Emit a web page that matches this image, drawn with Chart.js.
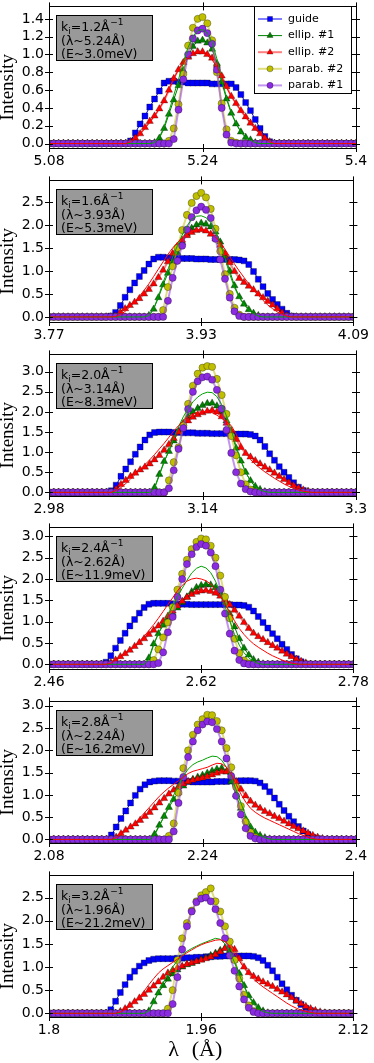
<!DOCTYPE html>
<html>
<head>
<meta charset="utf-8">
<title>Wavelength distributions</title>
<script src="https://cdn.jsdelivr.net/npm/chart.js@4.4.0/dist/chart.umd.min.js"></script>
<style>
  html, body { margin: 0; padding: 0; background: #fff; }
  body { width: 374px; height: 1063px; position: relative; overflow: hidden; }
  .panel { position: absolute; left: 0; width: 374px; }
</style>
</head>
<body>
<script>
// wavelength grid step (Å) used by every panel, starting at the first x tick
const lamStep = 0.005;

const seriesNames = ['guide', 'ellip. #1', 'ellip. #2', 'parab. #2', 'parab. #1'];
const kiLabels = ['1.2', '1.6', '2.0', '2.4', '2.8', '3.2'];
const lamLabels = ['5.24', '3.93', '3.14', '2.62', '2.24', '1.96'];
const energyLabels = ['3.0', '5.3', '8.3', '11.9', '16.2', '21.2'];

const xTicks1 = [5.08, 5.24, 5.4];
const xTicks2 = [3.77, 3.93, 4.09];
const xTicks3 = [2.98, 3.14, 3.3];
const xTicks4 = [2.46, 2.62, 2.78];
const xTicks5 = [2.08, 2.24, 2.4];
const xTicks6 = [1.8, 1.96, 2.12];

const yTicks1 = [0, 0.2, 0.4, 0.6, 0.8, 1.0, 1.2, 1.4];
const yTicks2 = [0, 0.5, 1.0, 1.5, 2.0, 2.5];
const yTicks3 = [0, 0.5, 1.0, 1.5, 2.0, 2.5, 3.0];
const yTicks4 = [0, 0.5, 1.0, 1.5, 2.0, 2.5, 3.0];
const yTicks5 = [0, 0.5, 1.0, 1.5, 2.0, 2.5, 3.0];
const yTicks6 = [0, 0.5, 1.0, 1.5, 2.0, 2.5];

// ---- k_i = 1.2
const guide1 = [0,0,0,0,0, 0,0,0,0,0, 0,0,0,0,0, 0,0,
  0.03,0.12,0.22,0.31,0.41, 0.50,0.59,0.68,0.70,0.70, 0.69,0.69,0.68,0.68,0.68, 0.68,0.68,0.67,0.67,0.67, 0.67,0.67,0.63,0.55,0.46, 0.37,0.27,0.17,0.08,0.02,
  0,0,0,0,0, 0,0,0,0,0, 0,0,0,0,0, 0,0,0];
const ellip1_1 = [0,0,0,0,0, 0,0,0,0,0, 0,0,0,0,0, 0,0,0,0,0, 0,0,
  0.01,0.06,0.17,0.33,0.49, 0.65,0.82,0.98,1.09,1.15, 1.16,1.13,1.06,0.90,0.69, 0.50,0.34,0.22,0.13,0.07, 0.04,0.01,
  0,0,0,0,0, 0,0,0,0,0, 0,0,0,0,0, 0,0,0,0,0, 0];
const ellip2_1 = [0,0,0,0,0, 0,0,0,0,0, 0,0,0,0,0, 0,0,
  0.02,0.06,0.11,0.18,0.25, 0.31,0.39,0.48,0.60,0.73, 0.83,0.91,0.97,1.01,1.03, 1.03,1.00,0.96,0.88,0.76, 0.64,0.53,0.45,0.37,0.30, 0.23,0.17,0.11,0.06,0.02,
  0,0,0,0,0, 0,0,0,0,0, 0,0,0,0,0, 0,0,0];
const parab2_1 = [0,0,0,0,0, 0,0,0,0,0, 0,0,0,0,0, 0,0,0,0,0, 0,0,0,0,0,
  0.03,0.17,0.44,0.78,1.10, 1.30,1.40,1.42,1.35,1.16, 0.80,0.45,0.16,0.03,0.01,
  0,0,0,0,0, 0,0,0,0,0, 0,0,0,0,0, 0,0,0,0,0, 0,0,0,0,0];
const parab1_1 = [0,0,0,0,0, 0,0,0,0,0, 0,0,0,0,0, 0,0,0,0,0, 0,0,0,0,0, 0,
  0.05,0.38,0.72,1.00,1.18, 1.27,1.29,1.24,1.12,0.83, 0.40,0.10,0.01,
  0,0,0,0,0, 0,0,0,0,0, 0,0,0,0,0, 0,0,0,0,0, 0,0,0,0,0, 0];
const ellip1Line1 = [0,0,0,0,0, 0,0,0,0,0, 0,0,0,0,0, 0,0,0,0,0, 0,0,
  0.01,0.07,0.19,0.36,0.54, 0.72,0.91,1.08,1.20,1.27, 1.28,1.24,1.14,0.95,0.72, 0.52,0.35,0.23,0.13,0.07, 0.04,0.01,
  0,0,0,0,0, 0,0,0,0,0, 0,0,0,0,0, 0,0,0,0,0, 0];
const ellip2Line1 = [0,0,0,0,0, 0,0,0,0,0, 0,0,0,0,0, 0,0,
  0.02,0.06,0.11,0.17,0.24, 0.31,0.39,0.49,0.61,0.73, 0.83,0.91,0.97,1.01,1.03, 1.02,0.99,0.94,0.86,0.75, 0.63,0.53,0.45,0.37,0.30, 0.23,0.17,0.11,0.06,0.02,
  0,0,0,0,0, 0,0,0,0,0, 0,0,0,0,0, 0,0,0];

// ---- k_i = 1.6
const guide2 = [0,0,0,0,0, 0,0,0,0,0, 0,0,0,
  0.02,0.10,0.25,0.43,0.59, 0.74,0.88,1.01,1.15,1.26, 1.30,1.30,1.29,1.28,1.28, 1.27,1.27,1.27,1.26,1.26, 1.26,1.25,1.25,1.25,1.25, 1.25,1.25,1.24,1.22,1.14, 0.99,0.82,0.66,0.51,0.38, 0.27,0.17,0.08,0.02,
  0,0,0,0,0, 0,0,0,0,0, 0,0,0];
const ellip1_2 = [0,0,0,0,0, 0,0,0,0,0, 0,0,0,0,0, 0,0,0,0,0, 0,
  0.03,0.17,0.42,0.70,0.95, 1.18,1.40,1.62,1.80,1.93, 2.00,2.04,2.02,1.96,1.85, 1.63,1.33,1.00,0.68,0.44, 0.28,0.16,0.08,0.03,
  0,0,0,0,0, 0,0,0,0,0, 0,0,0,0,0, 0,0,0,0,0];
const ellip2_2 = [0,0,0,0,0, 0,0,0,0,0, 0,0,0,0,
  0.02,0.10,0.18,0.25,0.32, 0.40,0.50,0.60,0.72,0.86, 1.02,1.20,1.38,1.54,1.67, 1.77,1.84,1.88,1.90,1.87, 1.80,1.70,1.56,1.38,1.18, 0.99,0.84,0.75,0.67,0.59, 0.50,0.42,0.34,0.26,0.18, 0.09,0.03,
  0,0,0,0,0, 0,0,0,0,0, 0,0,0,0];
const parab2_2 = [0,0,0,0,0, 0,0,0,0,0, 0,0,0,0,0, 0,0,0,0,0, 0,0,0,0,
  0.15,0.65,1.10,1.50,1.89, 2.22,2.48,2.63,2.70,2.60, 2.35,1.92,1.43,0.93,0.50, 0.20,0.05,
  0,0,0,0,0, 0,0,0,0,0, 0,0,0,0,0, 0,0,0,0,0, 0,0,0,0];
const parab1_2 = [0,0,0,0,0, 0,0,0,0,0, 0,0,0,0,0, 0,0,0,0,0, 0,0,0,0,0,
  0.35,0.85,1.22,1.55,1.90, 2.17,2.32,2.40,2.33,2.15, 1.70,1.25,0.83,0.42,0.12, 0.02,
  0,0,0,0,0, 0,0,0,0,0, 0,0,0,0,0, 0,0,0,0,0, 0,0,0,0];
const ellip1Line2 = [0,0,0,0,0, 0,0,0,0,0, 0,0,0,0,0, 0,0,0,0,0, 0,
  0.03,0.18,0.45,0.75,1.03, 1.30,1.55,1.78,1.98,2.12, 2.19,2.20,2.16,2.06,1.88, 1.60,1.27,0.93,0.64,0.42, 0.26,0.15,0.07,0.02,
  0,0,0,0,0, 0,0,0,0,0, 0,0,0,0,0, 0,0,0,0,0];
const ellip2Line2 = [0,0,0,0,0, 0,0,0,0,0, 0,0,0,0,
  0.01,0.05,0.12,0.22,0.33, 0.45,0.58,0.72,0.88,1.04, 1.20,1.36,1.50,1.62,1.72, 1.80,1.86,1.89,1.90,1.88, 1.83,1.74,1.62,1.47,1.31, 1.15,1.00,0.86,0.72,0.59, 0.47,0.36,0.26,0.18,0.11, 0.06,0.02,
  0,0,0,0,0, 0,0,0,0,0, 0,0,0,0];

// ---- k_i = 2.0
const guide3 = [0,0,0,0,0, 0,0,0,0,0, 0,0,0,
  0.04,0.18,0.40,0.58,0.76, 0.95,1.13,1.30,1.43,1.49, 1.50,1.50,1.50,1.49,1.49, 1.48,1.48,1.48,1.47,1.47, 1.47,1.46,1.46,1.46,1.46, 1.45,1.45,1.45,1.45,1.44, 1.40,1.30,1.14,0.96,0.80, 0.64,0.50,0.37,0.24,0.13, 0.05,0.01,
  0,0,0,0,0, 0,0,0,0,0];
const ellip1_3 = [0,0,0,0,0, 0,0,0,0,0, 0,0,0,0,0, 0,0,0,0,0, 0,0,
  0.12,0.45,0.77,1.02,1.28, 1.52,1.72,1.88,2.00,2.09, 2.16,2.21,2.22,2.15,2.00, 1.78,1.48,1.10,0.78,0.50, 0.29,0.15,0.07,0.02,
  0,0,0,0,0, 0,0,0,0,0, 0,0,0,0,0, 0,0,0,0];
const ellip2_3 = [0,0,0,0,0, 0,0,0,0,0, 0,0,0,0,
  0.08,0.20,0.30,0.40,0.48, 0.56,0.63,0.71,0.81,0.92, 1.05,1.19,1.34,1.50,1.66, 1.78,1.87,1.93,1.98,2.02, 2.04,2.00,1.88,1.72,1.53, 1.32,1.12,0.97,0.88,0.79, 0.71,0.63,0.56,0.48,0.40, 0.32,0.24,0.17,0.11,0.06, 0.03,
  0,0,0,0,0, 0,0,0,0,0];
const parab2_3 = [0,0,0,0,0, 0,0,0,0,0, 0,0,0,0,0, 0,0,0,0,0, 0,0,0,0,0,
  0.30,0.75,1.12,1.66,2.20, 2.65,2.95,3.10,3.14,3.12, 2.82,2.42,1.95,1.40,0.92, 0.50,0.20,0.07,0.01,
  0,0,0,0,0, 0,0,0,0,0, 0,0,0,0,0, 0,0,0,0,0, 0];
const parab1_3 = [0,0,0,0,0, 0,0,0,0,0, 0,0,0,0,0, 0,0,0,0,0, 0,0,0,0,0,
  0.10,0.55,1.08,1.60,2.07, 2.50,2.76,2.86,2.88,2.80, 2.55,2.08,1.55,0.98,0.50, 0.22,0.08,0.02,
  0,0,0,0,0, 0,0,0,0,0, 0,0,0,0,0, 0,0,0,0,0, 0,0];
const ellip1Line3 = [0,0,0,0,0, 0,0,0,0,0, 0,0,0,0,0, 0,0,0,0,0, 0,0,
  0.10,0.42,0.75,1.05,1.35, 1.63,1.88,2.08,2.25,2.37, 2.45,2.49,2.48,2.38,2.18, 1.90,1.55,1.15,0.80,0.50, 0.28,0.14,0.06,0.02,
  0,0,0,0,0, 0,0,0,0,0, 0,0,0,0,0, 0,0,0,0];
const ellip2Line3 = [0,0,0,0,0, 0,0,0,0,0, 0,0,0,0,
  0.05,0.12,0.22,0.33,0.45, 0.57,0.69,0.81,0.94,1.08, 1.22,1.37,1.52,1.66,1.78, 1.88,1.95,1.99,2.01,2.01, 1.98,1.92,1.84,1.76,1.66, 1.45,1.20,0.98,0.82,0.70, 0.60,0.51,0.43,0.35,0.28, 0.21,0.15,0.10,0.06,0.03, 0.01,
  0,0,0,0,0, 0,0,0,0,0];

// ---- k_i = 2.4
const guide4 = [0,0,0,0,0, 0,0,0,0,0, 0,0,
  0.05,0.20,0.38,0.56,0.73, 0.90,1.05,1.20,1.33,1.41, 1.43,1.43,1.43,1.43,1.42, 1.41,1.41,1.41,1.40,1.40, 1.40,1.40,1.40,1.40,1.40, 1.40,1.40,1.39,1.39,1.38, 1.34,1.25,1.12,0.98,0.85, 0.72,0.60,0.47,0.35,0.23, 0.13,0.06,0.01,
  0,0,0,0,0, 0,0,0,0,0];
const ellip1_4 = [0,0,0,0,0, 0,0,0,0,0, 0,0,0,0,0, 0,0,0,0,0, 0,
  0.15,0.48,0.72,0.92,1.08, 1.20,1.32,1.45,1.58,1.70, 1.80,1.85,1.87,1.86,1.80, 1.66,1.45,1.18,0.88,0.60, 0.38,0.22,0.11,0.05,0.01,
  0,0,0,0,0, 0,0,0,0,0, 0,0,0,0,0, 0,0,0,0];
const ellip2_4 = [0,0,0,0,0, 0,0,0,0,0, 0,0,0,
  0.04,0.10,0.18,0.25,0.33, 0.42,0.51,0.60,0.70,0.80, 0.90,1.01,1.13,1.25,1.37, 1.48,1.57,1.64,1.69,1.72, 1.73,1.71,1.67,1.60,1.52, 1.40,1.27,1.13,0.98,0.84, 0.73,0.65,0.58,0.51,0.44, 0.38,0.31,0.24,0.18,0.12, 0.07,0.03,
  0,0,0,0,0, 0,0,0,0,0];
const parab2_4 = [0,0,0,0,0, 0,0,0,0,0, 0,0,0,0,0, 0,0,0,0,0, 0,0,
  0.10,0.35,0.63,0.98,1.34, 1.75,2.12,2.45,2.70,2.87, 2.95,2.93,2.78,2.50,2.08, 1.58,1.08,0.60,0.26,0.09, 0.02,
  0,0,0,0,0, 0,0,0,0,0, 0,0,0,0,0, 0,0,0,0,0, 0,0];
const parab1_4 = [0,0,0,0,0, 0,0,0,0,0, 0,0,0,0,0, 0,0,0,0,0, 0,0,0,
  0.03,0.28,0.75,1.11,1.58, 2.00,2.35,2.58,2.75,2.82, 2.78,2.62,2.30,1.75,1.19, 0.72,0.32,0.10,0.02,
  0,0,0,0,0, 0,0,0,0,0, 0,0,0,0,0, 0,0,0,0,0, 0,0,0];
const ellip1Line4 = [0,0,0,0,0, 0,0,0,0,0, 0,0,0,0,0, 0,0,0,0,0, 0,
  0.12,0.45,0.72,0.96,1.18, 1.38,1.58,1.78,1.97,2.14, 2.25,2.30,2.26,2.15,1.95, 1.68,1.36,1.02,0.70,0.45, 0.27,0.15,0.07,0.02,
  0,0,0,0,0, 0,0,0,0,0, 0,0,0,0,0, 0,0,0,0,0];
const ellip2Line4 = [0,0,0,0,0, 0,0,0,0,0, 0,0,0,
  0.03,0.09,0.16,0.24,0.33, 0.43,0.54,0.66,0.79,0.93, 1.08,1.24,1.40,1.56,1.72, 1.85,1.95,2.00,2.02,2.00, 1.96,1.88,1.76,1.60,1.42, 1.22,1.02,0.84,0.70,0.58, 0.48,0.40,0.33,0.26,0.20, 0.15,0.10,0.06,0.03,0.01,
  0,0,0,0,0, 0,0,0,0,0, 0,0];

// ---- k_i = 2.8
const guide5 = [0,0,0,0,0, 0,0,0,0,0, 0,0,0,
  0.10,0.28,0.47,0.64,0.82, 0.99,1.13,1.23,1.29,1.31, 1.32,1.32,1.32,1.31,1.31, 1.30,1.30,1.29,1.29,1.29, 1.29,1.29,1.30,1.30,1.30, 1.31,1.31,1.32,1.32,1.32, 1.31,1.27,1.19,1.07,0.93, 0.79,0.65,0.52,0.40,0.29, 0.19,0.11,0.05,0.02,
  0,0,0,0,0, 0,0,0];
const ellip1_5 = [0,0,0,0,0, 0,0,0,0,0, 0,0,0,0,0, 0,0,0,0,0, 0,0,
  0.12,0.32,0.52,0.72,0.90, 1.06,1.20,1.29,1.35,1.40, 1.44,1.49,1.54,1.58,1.60, 1.52,1.30,1.00,0.70,0.45, 0.28,0.16,0.09,0.04,0.01,
  0,0,0,0,0, 0,0,0,0,0, 0,0,0,0,0, 0,0,0];
const ellip2_5 = [0,0,0,0,0, 0,0,0,0,0, 0,0,0,0,
  0.05,0.13,0.21,0.28,0.35, 0.43,0.52,0.61,0.71,0.82, 0.92,1.02,1.11,1.19,1.25, 1.30,1.33,1.36,1.38,1.41, 1.45,1.49,1.52,1.52,1.44, 1.30,1.13,0.98,0.86,0.77, 0.70,0.63,0.58,0.52,0.47, 0.41,0.35,0.29,0.24,0.19, 0.14,0.09,0.05,0.02,
  0,0,0,0,0, 0,0];
const parab2_5 = [0,0,0,0,0, 0,0,0,0,0, 0,0,0,0,0, 0,0,0,0,0, 0,0,0,0,0,
  0.08,0.36,1.05,1.60,2.00, 2.35,2.58,2.70,2.80,2.79, 2.66,2.45,2.05,1.62,1.18, 0.75,0.40,0.16,0.05,0.01,
  0,0,0,0,0, 0,0,0,0,0, 0,0,0,0,0, 0,0,0,0,0];
const parab1_5 = [0,0,0,0,0, 0,0,0,0,0, 0,0,0,0,0, 0,0,0,0,0, 0,0,0,0,0, 0,
  0.18,0.82,1.40,1.85,2.20, 2.45,2.58,2.65,2.63,2.48, 2.20,1.82,1.42,0.98,0.56, 0.25,0.08,0.02,
  0,0,0,0,0, 0,0,0,0,0, 0,0,0,0,0, 0,0,0,0,0, 0];
const ellip1Line5 = [0,0,0,0,0, 0,0,0,0,0, 0,0,0,0,0, 0,0,0,0,0, 0,0,
  0.10,0.30,0.52,0.76,1.00, 1.22,1.42,1.58,1.68,1.74, 1.78,1.83,1.87,1.86,1.78, 1.62,1.40,1.12,0.82,0.54, 0.33,0.18,0.09,0.04,0.01,
  0,0,0,0,0, 0,0,0,0,0, 0,0,0,0,0, 0,0,0];
const ellip2Line5 = [0,0,0,0,0, 0,0,0,0,0, 0,0,0,0,
  0.04,0.11,0.19,0.28,0.38, 0.49,0.61,0.73,0.85,0.97, 1.07,1.16,1.24,1.32,1.40, 1.48,1.53,1.56,1.59,1.62, 1.67,1.71,1.70,1.62,1.46, 1.24,1.02,0.84,0.70,0.61, 0.54,0.48,0.43,0.38,0.33, 0.28,0.23,0.18,0.13,0.09, 0.05,0.02,
  0,0,0,0,0, 0,0,0,0];

// ---- k_i = 3.2
const guide6 = [0,0,0,0,0, 0,0,0,0,0, 0,0,0,
  0.08,0.26,0.45,0.62,0.78, 0.91,1.02,1.09,1.14,1.17, 1.18,1.18,1.18,1.18,1.19, 1.19,1.20,1.20,1.21,1.21, 1.22,1.22,1.23,1.23,1.24, 1.24,1.24,1.24,1.24,1.24, 1.23,1.20,1.14,1.04,0.92, 0.78,0.64,0.51,0.39,0.28, 0.19,0.11,0.06,0.02,
  0,0,0,0,0, 0,0,0];
const ellip1_6 = [0,0,0,0,0, 0,0,0,0,0, 0,0,0,0,0, 0,0,0,0,0, 0,
  0.05,0.25,0.44,0.60,0.74, 0.85,0.94,1.00,1.05,1.08, 1.12,1.16,1.20,1.25,1.30, 1.36,1.41,1.36,1.15,0.86, 0.60,0.38,0.23,0.12,0.05, 0.01,
  0,0,0,0,0, 0,0,0,0,0, 0,0,0,0,0, 0,0,0];
const ellip2_6 = [0,0,0,0,0, 0,0,0,0,0, 0,0,0,0,0,
  0.04,0.10,0.17,0.25,0.33, 0.41,0.50,0.59,0.68,0.78, 0.87,0.93,0.98,1.02,1.06, 1.09,1.12,1.15,1.18,1.22, 1.27,1.33,1.40,1.46,1.38, 1.18,1.00,0.88,0.80,0.74, 0.68,0.63,0.58,0.52,0.46, 0.40,0.34,0.27,0.21,0.15, 0.10,0.06,0.03,0.01,
  0,0,0,0,0, 0];
const parab2_6 = [0,0,0,0,0, 0,0,0,0,0, 0,0,0,0,0, 0,0,0,0,0, 0,0,0,0,0,
  0.10,0.50,1.15,1.62,1.95, 2.22,2.42,2.55,2.62,2.70, 2.42,2.20,1.88,1.55,1.15, 0.75,0.40,0.17,0.05,0.01,
  0,0,0,0,0, 0,0,0,0,0, 0,0,0,0,0, 0,0,0,0,0];
const parab1_6 = [0,0,0,0,0, 0,0,0,0,0, 0,0,0,0,0, 0,0,0,0,0, 0,0,0,0,0, 0,
  0.20,0.78,1.38,1.88,2.20, 2.40,2.48,2.50,2.42,2.25, 1.95,1.62,1.25,0.92,0.58, 0.30,0.12,0.03,
  0,0,0,0,0, 0,0,0,0,0, 0,0,0,0,0, 0,0,0,0,0, 0];
const ellip1Line6 = [0,0,0,0,0, 0,0,0,0,0, 0,0,0,0,0, 0,0,0,0,0, 0,
  0.05,0.25,0.46,0.66,0.84, 1.00,1.14,1.26,1.34,1.40, 1.45,1.50,1.54,1.58,1.62, 1.60,1.50,1.32,1.10,0.84, 0.58,0.36,0.20,0.10,0.04, 0.01,
  0,0,0,0,0, 0,0,0,0,0, 0,0,0,0,0, 0,0,0];
const ellip2Line6 = [0,0,0,0,0, 0,0,0,0,0, 0,0,0,0,0,
  0.03,0.08,0.15,0.24,0.35, 0.48,0.62,0.75,0.87,0.96, 1.03,1.10,1.17,1.24,1.31, 1.37,1.43,1.48,1.52,1.55, 1.58,1.59,1.55,1.45,1.30, 1.14,0.98,0.85,0.74,0.65, 0.57,0.50,0.43,0.36,0.29, 0.22,0.16,0.11,0.07,0.04, 0.02,
  0,0,0,0,0, 0,0,0,0];

const xTicks = [xTicks1, xTicks2, xTicks3, xTicks4, xTicks5, xTicks6];
const yTicks = [yTicks1, yTicks2, yTicks3, yTicks4, yTicks5, yTicks6];
const panelData = [
  [guide1, ellip1_1, ellip2_1, parab2_1, parab1_1, ellip1Line1, ellip2Line1],
  [guide2, ellip1_2, ellip2_2, parab2_2, parab1_2, ellip1Line2, ellip2Line2],
  [guide3, ellip1_3, ellip2_3, parab2_3, parab1_3, ellip1Line3, ellip2Line3],
  [guide4, ellip1_4, ellip2_4, parab2_4, parab1_4, ellip1Line4, ellip2Line4],
  [guide5, ellip1_5, ellip2_5, parab2_5, parab1_5, ellip1Line5, ellip2Line5],
  [guide6, ellip1_6, ellip2_6, parab2_6, parab1_6, ellip1Line6, ellip2Line6]
];

// layout (pixels) and axis ranges
const panelTop = [3, 177, 351, 524, 698, 872];
const panelH = 145;
const yRange = [[-0.05, 1.54], [-0.11, 2.97], [-0.09, 3.43], [-0.11, 3.21], [-0.08, 3.10], [-0.08, 2.98]];

// styles of the five measured series + two plain lines
const styles = [
  { color: '#0000ff', line: '#0000ff', lw: 1, point: 'rect', r: 4.2, order: 10 },
  { color: '#008000', line: '#008000', lw: 1, point: 'triangle', r: 4.2, order: 9 },
  { color: '#ff0000', line: 'rgba(255,0,0,0.5)', lw: 2, point: 'triangle', r: 4.2, order: 8 },
  { color: '#bfbf00', line: 'rgba(191,191,0,0.5)', lw: 2, point: 'circle', r: 3.6, order: 7 },
  { color: '#8a2be2', line: 'rgba(138,43,226,0.5)', lw: 2, point: 'circle', r: 3.6, order: 6 },
  { color: '#00a000', line: '#00a000', lw: 1, point: 'circle', r: 0, order: 5 },
  { color: '#ff0000', line: '#ff0000', lw: 1, point: 'circle', r: 0, order: 4 }
];

const tickFont = { family: 'DejaVu Sans', size: 14 };

function drawMarker(ctx, shape, x, y, r, fill) {
  ctx.beginPath();
  if (shape === 'rect') {
    const s = r * Math.SQRT1_2;
    ctx.rect(x - s, y - s, 2 * s, 2 * s);
  } else if (shape === 'triangle') {
    ctx.moveTo(x, y - r);
    ctx.lineTo(x + r * 0.866, y + r * 0.5);
    ctx.lineTo(x - r * 0.866, y + r * 0.5);
    ctx.closePath();
  } else {
    ctx.arc(x, y, r, 0, Math.PI * 2);
  }
  ctx.fillStyle = fill;
  ctx.fill();
  ctx.strokeStyle = 'rgba(0,0,0,0.6)';
  ctx.lineWidth = 0.5;
  ctx.stroke();
}

function decor(k) {
  return {
    id: 'decor' + k,
    afterDraw(chart) {
      const { ctx, chartArea: a, scales: { x, y } } = chart;
      ctx.save();

      // ticks crossing the frame on all four sides + frame
      ctx.strokeStyle = '#000';
      ctx.lineWidth = 1;
      ctx.beginPath();
      x.ticks.forEach(t => {
        const px = Math.round(x.getPixelForValue(t.value)) + 0.5;
        ctx.moveTo(px, a.top - 4); ctx.lineTo(px, a.top + 4);
        ctx.moveTo(px, a.bottom - 4); ctx.lineTo(px, a.bottom + 4);
      });
      y.ticks.forEach(t => {
        const py = Math.round(y.getPixelForValue(t.value)) + 0.5;
        ctx.moveTo(a.left - 4, py); ctx.lineTo(a.left + 4, py);
        ctx.moveTo(a.right - 4, py); ctx.lineTo(a.right + 4, py);
      });
      ctx.stroke();
      ctx.strokeRect(Math.round(a.left) + 0.5, Math.round(a.top) + 0.5,
        Math.round(a.right - a.left), Math.round(a.bottom - a.top));

      // y title
      ctx.save();
      ctx.translate(8.5, (a.top + a.bottom) / 2 + 10);
      ctx.rotate(-Math.PI / 2);
      ctx.font = '19px "Liberation Serif"';
      ctx.fillStyle = '#000';
      ctx.textAlign = 'center';
      ctx.textBaseline = 'middle';
      ctx.fillText('Intensity', 0, 0);
      ctx.restore();

      // info box
      const bx = Math.round(a.left) + 7, by = Math.round(a.top) + 9, bw = 96, bh = 45;
      ctx.fillStyle = '#999999';
      ctx.fillRect(bx, by, bw, bh);
      ctx.strokeRect(bx + 0.5, by + 0.5, bw, bh);
      ctx.fillStyle = '#000';
      ctx.textAlign = 'left';
      ctx.textBaseline = 'alphabetic';
      const big = '12.5px "DejaVu Sans"', small = '9px "DejaVu Sans"';
      let tx = bx + 5;
      const b1 = by + 15.5;
      ctx.font = big; ctx.fillText('k', tx, b1); tx += ctx.measureText('k').width;
      ctx.font = small; ctx.fillText('i', tx, b1 + 3); tx += ctx.measureText('i').width;
      ctx.font = big; const s1 = '=' + kiLabels[k] + 'Å';
      ctx.fillText(s1, tx, b1); tx += ctx.measureText(s1).width;
      ctx.font = small; ctx.fillText('\u22121', tx + 0.5, b1 - 6);
      ctx.font = big;
      ctx.fillText('(λ~' + lamLabels[k] + 'Å)', bx + 5, by + 29.5);
      ctx.fillText('(E~' + energyLabels[k] + 'meV)', bx + 5, by + 42.5);

      // legend in the first panel
      if (k === 0) {
        const lx = Math.round(a.right) - 102, ly = Math.round(a.top) + 0.5, lw = 97, lh = 87;
        ctx.fillStyle = '#fff';
        ctx.fillRect(lx, ly, lw, lh);
        ctx.strokeStyle = '#000';
        ctx.strokeRect(lx + 0.5, ly, lw, lh);
        ctx.font = '11px "DejaVu Sans"';
        ctx.textBaseline = 'middle';
        seriesNames.forEach((name, i) => {
          const st = styles[i];
          const ry = ly + 12.5 + i * 16.6;
          ctx.strokeStyle = st.line;
          ctx.lineWidth = st.lw;
          ctx.beginPath(); ctx.moveTo(lx + 4, ry); ctx.lineTo(lx + 28, ry); ctx.stroke();
          drawMarker(ctx, st.point, lx + 16, ry, st.r * 0.85, st.color);
          ctx.fillStyle = '#000';
          ctx.fillText(name, lx + 34, ry);
        });
      }

      // x title under the last panel
      if (k === panelTop.length - 1) {
        ctx.font = '22px "Liberation Serif"';
        ctx.fillStyle = '#000';
        ctx.textAlign = 'center';
        ctx.textBaseline = 'middle';
        ctx.fillText('λ', 173.5, a.bottom + 33);
        ctx.fillText('(Å)', 207, a.bottom + 33);
      }
      ctx.restore();
    }
  };
}

const badLengths = [];

function makePanel(k) {
  const canvasTop = panelTop[k] - 10;
  const last = k === panelTop.length - 1;
  const canvasH = last ? 1063 - canvasTop : 10 + panelH + 26;
  const xAxisH = canvasH - 10 - panelH;

  const holder = document.createElement('div');
  holder.className = 'panel';
  holder.style.top = canvasTop + 'px';
  holder.style.height = canvasH + 'px';
  const cv = document.createElement('canvas');
  cv.width = 374; cv.height = canvasH;
  cv.style.width = '374px'; cv.style.height = canvasH + 'px';
  holder.appendChild(cv);
  document.body.appendChild(holder);

  const lo = xTicks[k][0];
  const datasets = panelData[k].map((vals, i) => {
    if (vals.length !== 65) badLengths.push('panel ' + (k + 1) + ' series ' + i + ': ' + vals.length);
    const st = styles[i];
    return {
      label: i < 5 ? seriesNames[i] : '',
      data: vals.map((v, j) => ({ x: lo + j * lamStep, y: v })),
      borderColor: st.line,
      borderWidth: st.lw,
      pointStyle: st.point,
      pointRadius: st.r,
      pointBackgroundColor: st.color,
      pointBorderColor: 'rgba(0,0,0,0.6)',
      pointBorderWidth: 0.5,
      tension: 0,
      order: st.order
    };
  });

  new Chart(cv, {
    type: 'line',
    data: { datasets },
    options: {
      responsive: false,
      animation: false,
      devicePixelRatio: 1,
      events: [],
      layout: { padding: { top: 10, right: 18, left: 0, bottom: 0 } },
      plugins: { legend: { display: false }, tooltip: { enabled: false } },
      scales: {
        x: {
          type: 'linear',
          min: xTicks[k][0],
          max: xTicks[k][2],
          afterBuildTicks: s => { s.ticks = xTicks[k].map(v => ({ value: v })); },
          afterFit: s => { s.height = xAxisH; },
          grid: { display: false, drawTicks: false },
          border: { display: false },
          ticks: { font: tickFont, color: '#000', padding: 5, maxRotation: 0, autoSkip: false,
                   callback: v => String(v) }
        },
        y: {
          min: yRange[k][0],
          max: yRange[k][1],
          afterBuildTicks: s => { s.ticks = yTicks[k].map(v => ({ value: v })); },
          afterFit: s => { s.width = 49; },
          grid: { display: false, drawTicks: false },
          border: { display: false },
          ticks: { font: tickFont, color: '#000', padding: 5, autoSkip: false,
                   callback: v => Number(v).toFixed(1) }
        }
      }
    },
    plugins: [decor(k)]
  });
}

for (let k = 0; k < panelTop.length; k++) makePanel(k);

if (badLengths.length) throw new Error('length mismatch: ' + badLengths.join('; '));
</script>
</body>
</html>
